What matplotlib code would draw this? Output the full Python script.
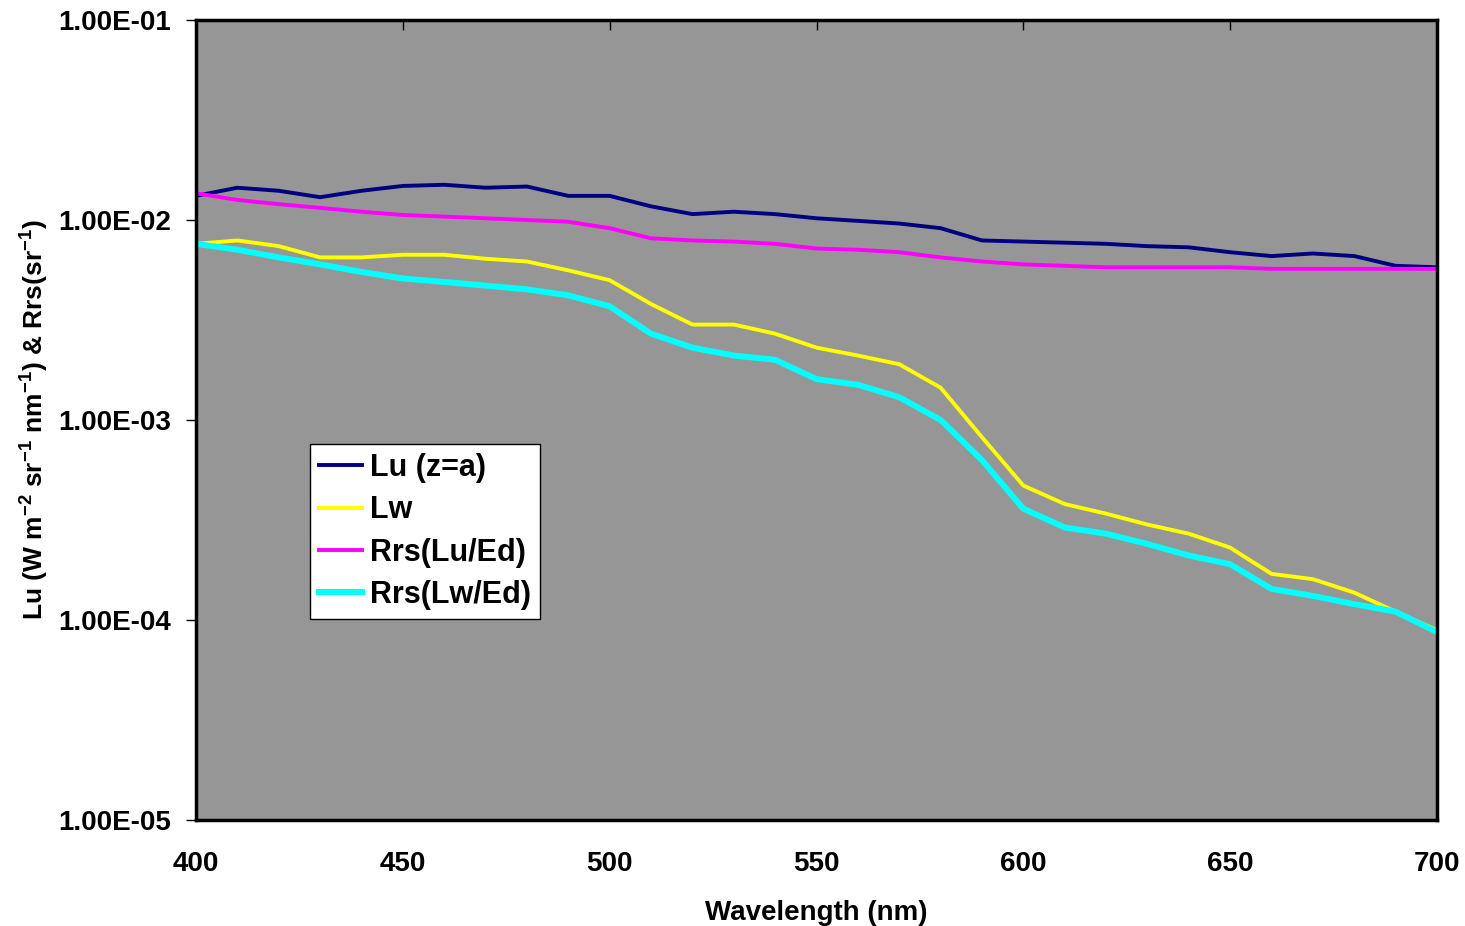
import matplotlib
matplotlib.use('Agg')
import matplotlib.pyplot as plt
from matplotlib.ticker import FixedLocator, FuncFormatter, NullLocator

plt.rcParams['font.family'] = ['Liberation Sans', 'DejaVu Sans']
plt.rcParams['font.weight'] = 'bold'
plt.rcParams['mathtext.default'] = 'regular'

# wavelength (nm)
wl = [400, 410, 420, 430, 440, 450, 460, 470, 480, 490, 500,
      510, 520, 530, 540, 550, 560, 570, 580, 590, 600,
      610, 620, 630, 640, 650, 660, 670, 680, 690, 700]

lu = [0.0132, 0.0145, 0.0140, 0.0130, 0.0140, 0.0148, 0.0150, 0.0145, 0.0147, 0.0132, 0.0132,
      0.0117, 0.0107, 0.0110, 0.0107, 0.0102, 0.0099, 0.0096, 0.0091, 0.0079, 0.0078,
      0.0077, 0.0076, 0.0074, 0.0073, 0.0069, 0.0066, 0.0068, 0.0066, 0.0059, 0.0058]

lw = [0.0076, 0.0079, 0.0074, 0.0065, 0.0065, 0.0067, 0.0067, 0.0064, 0.0062, 0.0056, 0.0050,
      0.0038, 0.0030, 0.0030, 0.0027, 0.0023, 0.0021, 0.0019, 0.00145, 0.00082, 0.00047,
      0.00038, 0.00034, 0.00030, 0.00027, 0.00023, 0.00017, 0.00016, 0.000137, 0.000110, 0.000089]

rrs_lu = [0.0136, 0.0126, 0.0120, 0.0115, 0.0110, 0.0106, 0.0104, 0.0102, 0.0100, 0.0098, 0.0091,
          0.0081, 0.0079, 0.0078, 0.0076, 0.0072, 0.0071, 0.0069, 0.0065, 0.0062, 0.0060,
          0.0059, 0.0058, 0.0058, 0.0058, 0.0058, 0.0057, 0.0057, 0.0057, 0.0057, 0.0057]

rrs_lw = [0.0076, 0.0071, 0.0065, 0.0060, 0.0055, 0.0051, 0.0049, 0.0047, 0.0045, 0.0042, 0.0037,
          0.0027, 0.0023, 0.0021, 0.0020, 0.0016, 0.0015, 0.0013, 0.0010, 0.00063, 0.00036,
          0.00029, 0.00027, 0.00024, 0.00021, 0.00019, 0.000143, 0.000132, 0.000120, 0.000110, 0.000087]

yticks = [1e-5, 1e-4, 1e-3, 1e-2, 1e-1]
xticks = [400, 450, 500, 550, 600, 650, 700]

fig = plt.figure(figsize=(14.65, 9.26), dpi=100)
ax = fig.add_axes([0.1338, 0.1145, 0.8471, 0.8639])
ax.set_facecolor('#969696')

ax.plot(wl, lu, color='#000080', lw=2.8, label='Lu (z=a)', solid_joinstyle='round')
ax.plot(wl, lw, color='#FFFF00', lw=2.8, label='Lw', solid_joinstyle='round')
ax.plot(wl, rrs_lu, color='#FF00FF', lw=2.8, label='Rrs(Lu/Ed)', solid_joinstyle='round')
ax.plot(wl, rrs_lw, color='#00FFFF', lw=4.3, label='Rrs(Lw/Ed)', solid_joinstyle='round')

ax.set_yscale('log')
ax.set_ylim(1e-5, 1e-1)
ax.set_xlim(400, 700)
ax.yaxis.set_major_locator(FixedLocator(yticks))
ax.yaxis.set_minor_locator(NullLocator())
ax.yaxis.set_major_formatter(FuncFormatter(lambda v, p: '%.2E' % v))
ax.set_xticks(xticks)

for s in ax.spines.values():
    s.set_linewidth(2.5)
    s.set_color('black')

ax.tick_params(axis='y', direction='out', length=7, width=1, labelsize=20, pad=11)
ax.tick_params(axis='x', direction='in', length=7, width=1, labelsize=20, pad=22,
               top=True, bottom=False, labeltop=False, labelbottom=True)

ax.set_xlabel('Wavelength (nm)', fontsize=20, fontweight='bold', labelpad=17)
ax.set_ylabel(r'Lu (W m$^{-2}$ sr$^{-1}$ nm$^{-1}$) & Rrs(sr$^{-1}$)',
              fontsize=19, fontweight='bold', labelpad=5)

leg = ax.legend(loc='upper left', bbox_to_anchor=(0.092, 0.47),
                frameon=True, fancybox=False, edgecolor='black', framealpha=1,
                handlelength=1.4, handletextpad=0.25, labelspacing=0.4,
                borderpad=0.3, borderaxespad=0, prop={'weight': 'bold', 'size': 22})
leg.get_frame().set_linewidth(1)

fig.savefig('out.png', dpi=100)
